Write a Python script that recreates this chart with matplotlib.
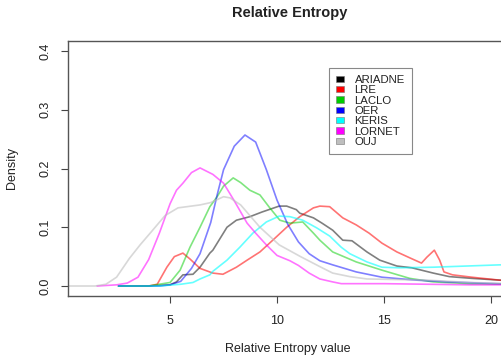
import numpy as np
import matplotlib
matplotlib.use("Agg")
import matplotlib.pyplot as plt
from matplotlib.patches import Patch

plt.rcParams['font.family'] = ['Liberation Sans', 'DejaVu Sans']

# density curves (x = relative entropy, y = density)
ariadne_x = [2.6, 4.0, 5.0, 5.3, 5.6, 6.07, 6.4, 6.86, 7.0, 7.66, 8.1, 8.73, 9.3, 10.1, 10.45, 10.9,
             11.06, 11.7, 12.1, 12.6, 13.07, 13.5, 14.2, 14.8, 15.6, 16.3, 17.3, 18.05, 19.1, 20.4, 21.0]
ariadne_y = [0.0, 0.0, 0.002, 0.007, 0.019, 0.02, 0.032, 0.056, 0.061, 0.1, 0.112, 0.118, 0.126, 0.136, 0.136, 0.13,
             0.124, 0.116, 0.107, 0.095, 0.078, 0.077, 0.058, 0.044, 0.034, 0.031, 0.022, 0.016, 0.013, 0.01, 0.009]

lre_x = [2.6, 4.0, 4.4, 4.85, 5.2, 5.6, 5.93, 6.4, 7.0, 7.47, 8.1, 8.6, 9.2, 9.8, 10.45, 11.06, 11.7, 12.0,
         12.46, 13.07, 13.7, 14.3, 14.9, 15.6, 16.2, 16.75, 17.0, 17.35, 17.6, 17.8, 18.2, 19.1, 20.4, 21.0]
lre_y = [0.0, 0.0, 0.003, 0.032, 0.05, 0.056, 0.046, 0.03, 0.022, 0.02, 0.032, 0.044, 0.058, 0.078, 0.1, 0.118, 0.133, 0.136,
         0.135, 0.116, 0.104, 0.09, 0.073, 0.058, 0.048, 0.039, 0.049, 0.061, 0.044, 0.024, 0.019, 0.015, 0.01, 0.009]

laclo_x = [2.6, 4.0, 5.0, 5.47, 5.93, 6.4, 6.86, 7.2, 7.5, 7.95, 8.3, 8.73, 9.2, 9.66, 10.13, 10.6, 11.2, 11.7,
           12.0, 12.6, 13.7, 14.9, 16.2, 17.3, 19.0, 21.0]
laclo_y = [0.0, 0.0, 0.006, 0.027, 0.066, 0.1, 0.135, 0.152, 0.17, 0.184, 0.176, 0.163, 0.155, 0.133, 0.112, 0.107, 0.109, 0.09,
           0.078, 0.058, 0.041, 0.027, 0.013, 0.007, 0.004, 0.003]

oer_x = [2.6, 4.5, 5.0, 5.5, 6.0, 6.4, 6.9, 7.2, 7.5, 8.0, 8.5, 9.0, 9.5, 10.0, 10.5, 11.0, 11.5, 12.0,
         12.6, 13.7, 14.9, 16.5, 18.0, 21.0]
oer_y = [0.0, 0.0, 0.002, 0.008, 0.03, 0.055, 0.108, 0.155, 0.198, 0.238, 0.257, 0.245, 0.198, 0.146, 0.105, 0.075, 0.055, 0.043,
         0.036, 0.024, 0.015, 0.01, 0.007, 0.003]

keris_x = [2.6, 4.5, 5.5, 6.07, 6.4, 6.86, 7.0, 7.66, 8.26, 8.87, 9.5, 10.1, 10.6, 11.2, 11.85, 12.46,
           13.0, 13.4, 14.2, 14.9, 15.7, 17.3, 18.85, 20.4, 21.0]
keris_y = [0.0, 0.0, 0.003, 0.006, 0.012, 0.019, 0.025, 0.044, 0.066, 0.09, 0.109, 0.119, 0.118, 0.112, 0.099, 0.085,
           0.066, 0.055, 0.041, 0.032, 0.031, 0.032, 0.034, 0.036, 0.036]

lornet_x = [1.6, 2.5, 3.0, 3.5, 4.0, 4.5, 5.0, 5.3, 5.6, 6.0, 6.4, 7.0, 7.5, 8.0, 8.6, 9.0, 9.5, 10.0,
            10.6, 11.0, 11.5, 12.0, 12.6, 13.0, 15.0, 17.0, 19.0, 21.0]
lornet_y = [0.0, 0.002, 0.005, 0.015, 0.045, 0.09, 0.14, 0.163, 0.175, 0.193, 0.201, 0.19, 0.175, 0.145, 0.107, 0.09, 0.07, 0.052,
            0.043, 0.035, 0.022, 0.012, 0.007, 0.004, 0.004, 0.003, 0.002, 0.002]

ouj_x = [0.3, 1.5, 2.0, 2.5, 3.1, 3.6, 4.07, 4.77, 5.37, 6.4, 6.9, 7.5, 7.8, 8.3, 9.2, 10.1, 11.1, 12.0,
         12.6, 13.4, 14.2, 17.0, 19.0, 21.0]
ouj_y = [0.0, 0.0, 0.003, 0.015, 0.047, 0.07, 0.09, 0.12, 0.133, 0.138, 0.142, 0.152, 0.15, 0.138, 0.1, 0.07, 0.05, 0.033,
         0.022, 0.016, 0.012, 0.01, 0.006, 0.004]

series_names = ["ARIADNE", "LRE", "LACLO", "OER", "KERIS", "LORNET", "OUJ"]
series_x = [ariadne_x, lre_x, laclo_x, oer_x, keris_x, lornet_x, ouj_x]
series_y = [ariadne_y, lre_y, laclo_y, oer_y, keris_y, lornet_y, ouj_y]
colors = ["#000000", "#ff0000", "#00cd00", "#0000ff", "#00ffff", "#ff00ff", "#bebebe"]
alphas = [0.5, 0.55, 0.5, 0.5, 0.6, 0.55, 0.6]

fig = plt.figure(figsize=(5.02, 3.6), dpi=100)
ax = fig.add_axes([68 / 502, 64 / 360, 444 / 502, 255 / 360])

for x, y, c, a in zip(series_x, series_y, colors, alphas):
    ax.plot(x, y, color=c, alpha=a, lw=1.2)

ax.set_xlim(0.23, 20.98)
ax.set_ylim(-0.017, 0.417)
ax.set_xticks([5, 10, 15, 20])
ax.set_yticks([0.0, 0.1, 0.2, 0.3, 0.4])
ax.set_yticklabels(["0.0", "0.1", "0.2", "0.3", "0.4"], rotation=90, va="center")
ax.tick_params(direction="out", length=5, width=0.8, colors="#444444", labelsize=9, labelcolor="#222222")
ax.tick_params(axis="x", pad=9)
ax.tick_params(axis="y", pad=7)
for s in ax.spines.values():
    s.set_color("#555555")
    s.set_linewidth(1.0)

fig.text(290 / 502, 1 - 13 / 360, "Relative Entropy", ha="center", va="center",
         fontsize=10.5, fontweight="bold", color="#222222")
fig.text(288 / 502, 1 - 349 / 360, "Relative Entropy value", ha="center", va="center",
         fontsize=9, color="#222222")
fig.text(12 / 502, 1 - 168 / 360, "Density", ha="center", va="center", rotation=90,
         fontsize=9, color="#222222")

handles = [Patch(facecolor=c, edgecolor="#777777", linewidth=0.4) for c in colors]
leg = ax.legend(handles, series_names, loc="upper left", bbox_to_anchor=(329 / 502, 1 - 68 / 360),
                bbox_transform=fig.transFigure, fontsize=8.2, labelspacing=0.03, handlelength=0.75,
                handleheight=0.5, handletextpad=0.9, borderpad=0.6, fancybox=False, framealpha=1,
                borderaxespad=0)
leg.get_frame().set_edgecolor("#888888")
leg.get_frame().set_linewidth(0.8)
for t in leg.get_texts():
    t.set_color("#222222")

fig.savefig("out.png", dpi=100)
